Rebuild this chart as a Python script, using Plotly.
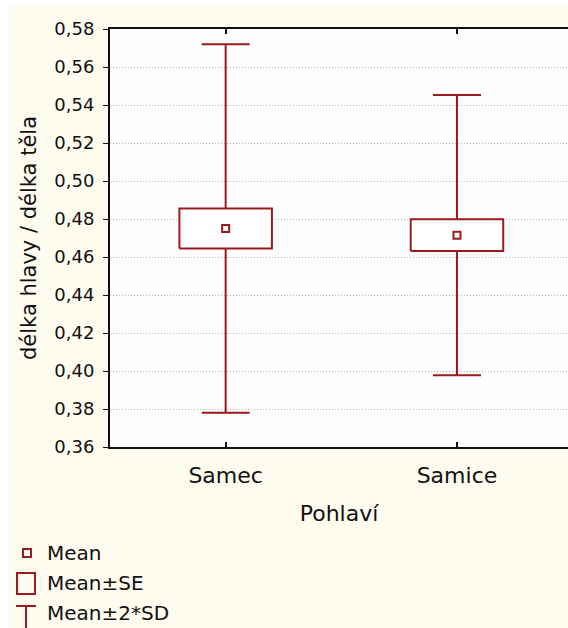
import plotly.graph_objects as go

# Head length / body length ratio by sex: mean, standard error, standard deviation
categories = ["Samec", "Samice"]
means = [0.4750, 0.4715]
std_err = [0.0105, 0.0084]
std_dev = [0.0485, 0.0369]

y_ticks = [0.36, 0.38, 0.40, 0.42, 0.44, 0.46, 0.48, 0.50, 0.52, 0.54, 0.56, 0.58]
legend_labels = ["Mean", "Mean±SE", "Mean±2*SD"]

RED = "#9A1B1E"
CREAM = "#FEFBEF"
FONT = "DejaVu Sans"

W, H = 568, 628
ML, MR, MT, MB = 110, 0, 29, 181
PW = W - ML - MR
PH = H - MT - MB


def px_x(px):
    return (px - ML) / PW


def px_y(py):
    return (H - MB - py) / PH


idx = list(range(len(categories)))
half_box = 0.2

fig = go.Figure()

# Whiskers: mean ± 2*SD
fig.add_trace(go.Scatter(
    x=idx, y=means, mode="markers",
    marker=dict(color="rgba(0,0,0,0)", size=1),
    error_y=dict(type="data", symmetric=True,
                 array=[2 * s for s in std_dev],
                 color=RED, thickness=2, width=24),
    showlegend=False, hoverinfo="skip",
))

# Boxes: mean ± SE, filled white over the whiskers and grid
for i, m, se in zip(idx, means, std_err):
    fig.add_trace(go.Scatter(
        x=[i - half_box, i + half_box, i + half_box, i - half_box, i - half_box],
        y=[m - se, m - se, m + se, m + se, m - se],
        mode="lines", fill="toself", fillcolor="#FFFFFF",
        line=dict(color=RED, width=2),
        showlegend=False, hoverinfo="skip",
    ))

# Mean markers
fig.add_trace(go.Scatter(
    x=idx, y=means, mode="markers",
    marker=dict(symbol="square", size=7, color="#FFFFFF",
                line=dict(color=RED, width=2)),
    showlegend=False, hoverinfo="skip",
))

shapes = [
    # white strips along the top and left edge
    dict(type="rect", xref="paper", yref="paper", layer="below",
         x0=px_x(0), x1=px_x(7), y0=px_y(H), y1=px_y(0),
         fillcolor="#FFFFFF", line=dict(width=0)),
    dict(type="rect", xref="paper", yref="paper", layer="below",
         x0=px_x(0), x1=px_x(W), y0=px_y(6), y1=px_y(0),
         fillcolor="#FFFFFF", line=dict(width=0)),
    # legend symbols
    dict(type="rect", xref="paper", yref="paper",
         x0=px_x(23), x1=px_x(31), y0=px_y(557), y1=px_y(549),
         fillcolor="#FFFFFF", line=dict(color=RED, width=2)),
    dict(type="rect", xref="paper", yref="paper",
         x0=px_x(17), x1=px_x(35), y0=px_y(594), y1=px_y(573),
         fillcolor="rgba(0,0,0,0)", line=dict(color=RED, width=2)),
    dict(type="line", xref="paper", yref="paper",
         x0=px_x(16), x1=px_x(36), y0=px_y(606), y1=px_y(606),
         line=dict(color=RED, width=2)),
    dict(type="line", xref="paper", yref="paper",
         x0=px_x(26), x1=px_x(26), y0=px_y(606), y1=px_y(630),
         line=dict(color=RED, width=2)),
]

legend_y = [553, 583, 613]
annotations = [
    dict(text=t, xref="paper", yref="paper", x=px_x(45), y=px_y(yy),
         xanchor="left", yanchor="middle", showarrow=False,
         font=dict(family=FONT, size=20, color="#111111"))
    for t, yy in zip(legend_labels, legend_y)
]

fig.update_layout(
    width=W, height=H,
    margin=dict(l=ML, r=MR, t=MT, b=MB, pad=0),
    paper_bgcolor=CREAM,
    plot_bgcolor="#FDFDFD",
    separators=",.",
    font=dict(family=FONT, size=18, color="#111111"),
    shapes=shapes,
    annotations=annotations,
    showlegend=False,
    xaxis=dict(
        range=[-0.5, 1.48],
        tickvals=idx, ticktext=categories,
        ticks="inside", ticklen=5, tickwidth=2, tickcolor="#111111",
        showline=True, linecolor="#111111", linewidth=2, mirror="ticks",
        showgrid=False, zeroline=False,
        tickfont=dict(family=FONT, size=22),
        ticklabelstandoff=8,
        title=dict(text="Pohlaví", font=dict(family=FONT, size=22), standoff=18),
    ),
    yaxis=dict(
        range=[0.36, 0.58],
        tickvals=y_ticks, tickformat=".2f",
        ticks="outside", ticklen=5, tickwidth=1, tickcolor="#111111",
        showline=True, linecolor="#111111", linewidth=2, mirror=False,
        showgrid=True, gridcolor="#B4B4B4", griddash="1px,2px", gridwidth=1,
        zeroline=False,
        tickfont=dict(family=FONT, size=18),
        ticklabelstandoff=5,
        title=dict(text="délka hlavy / délka těla",
                   font=dict(family=FONT, size=21), standoff=12),
    ),
)

fig.write_html("out.html")
